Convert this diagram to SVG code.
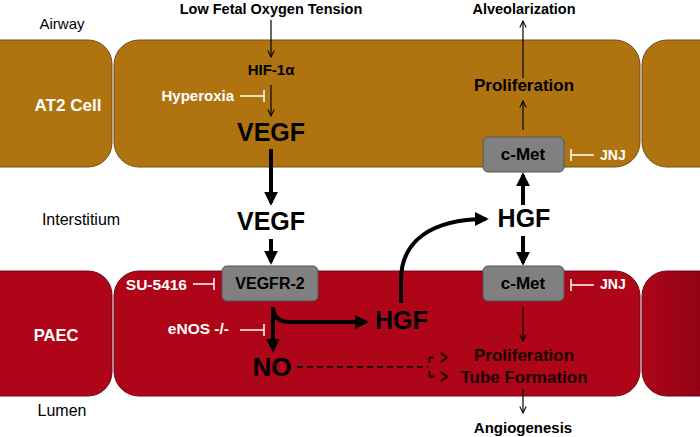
<svg xmlns="http://www.w3.org/2000/svg" width="700" height="437" viewBox="0 0 700 437">
<defs>
<linearGradient id="rg" x1="0" y1="0" x2="1" y2="0">
<stop offset="0" stop-color="#AE0519"/><stop offset="1" stop-color="#8E0214"/>
</linearGradient>
<marker id="ah" viewBox="0 0 10 10" refX="9" refY="5" markerWidth="8" markerHeight="8" markerUnits="userSpaceOnUse" orient="auto">
<path d="M1 1 L9 5 L1 9" fill="none" stroke="#000" stroke-width="1.3"/>
</marker>
<marker id="ahb" viewBox="0 0 10 10" refX="8" refY="5" markerWidth="3.5" markerHeight="3.5" orient="auto">
<path d="M0 0 L10 5 L0 10 Z" fill="#000"/>
</marker>
</defs>
<style>
.t{font-family:"Liberation Sans",Arial,sans-serif;}
.b{font-weight:bold;}
.n{font-weight:normal;fill:#000;}
.w{fill:#fff;}
.k{fill:#000;}
.c{text-anchor:middle;}
.e{text-anchor:end;}
.brown{fill:#AF7410;stroke:#6E5020;stroke-width:1;}
.red{fill:#AE0519;stroke:#6E0A14;stroke-width:1;}
.box{fill:#808080;stroke:#555;stroke-width:1;}
.thin{stroke:#000;stroke-width:1.2;fill:none;}
.thick{stroke:#000;stroke-width:4;fill:none;}
.inh{stroke:#fff;stroke-width:1.5;fill:none;}
.dash{stroke:#1a0000;stroke-width:1.8;fill:none;stroke-dasharray:6 4;}
.dk{stroke:#1a0000;stroke-width:1.8;fill:none;}
</style>
<rect width="700" height="437" fill="#fff"/>

<g id="at2-left"><path class="brown" d="M-10 40 H88 A24 24 0 0 1 112 64 V143 A24 24 0 0 1 88 167 H-10 Z"/></g>
<g id="at2-mid"><rect class="brown" x="114" y="40" width="526" height="127" rx="25" ry="25"/></g>
<g id="at2-right"><path class="brown" d="M710 40 H667 A25 25 0 0 0 642 65 V142 A25 25 0 0 0 667 167 H710 Z"/></g>
<g id="paec-left"><path class="red" d="M-10 271 H88 A24 24 0 0 1 112 295 V372 A24 24 0 0 1 88 396 H-10 Z"/></g>
<g id="paec-mid"><rect class="red" x="114" y="271" width="526" height="125" rx="25" ry="25"/></g>
<g id="paec-right"><path d="M710 271 H667 A25 25 0 0 0 642 296 V371 A25 25 0 0 0 667 396 H710 Z" fill="url(#rg)" stroke="#6E0A14" stroke-width="1"/></g>

<g id="labels">
<text class="t n c" x="62" y="29" font-size="15">Airway</text>
<text class="t n c" x="81" y="225" font-size="16">Interstitium</text>
<text class="t n c" x="62" y="416" font-size="16">Lumen</text>
<text class="t b w c" x="68" y="111" font-size="17">AT2 Cell</text>
<text class="t b w c" x="56" y="341" font-size="16.5">PAEC</text>
</g>

<g id="low-o2"><text class="t b k c" x="271" y="13.5" font-size="14.5">Low Fetal Oxygen Tension</text></g>
<g id="hif"><text class="t b k c" x="271" y="75" font-size="15">HIF-1α</text></g>
<g id="hyperoxia"><text class="t b w e" x="234" y="101" font-size="15">Hyperoxia</text></g>
<g id="vegf-at2"><text class="t b k c" x="271" y="141" font-size="25">VEGF</text></g>
<g id="vegf-int"><text class="t b k c" x="271" y="230" font-size="25">VEGF</text></g>
<g id="vegfr2"><rect class="box" x="222" y="266" width="96" height="35" rx="5"/><text class="t b k c" x="270" y="289" font-size="16">VEGFR-2</text></g>
<g id="su5416"><text class="t b w e" x="187" y="290" font-size="15.5">SU-5416</text></g>
<g id="enos"><text class="t b w e" x="229" y="334" font-size="15.5">eNOS -/-</text></g>
<g id="no"><text class="t b k c" x="272" y="376" font-size="26">NO</text></g>
<g id="hgf-paec"><text class="t b k" x="375" y="329" font-size="25">HGF</text></g>
<g id="hgf-int"><text class="t b k c" x="524" y="227" font-size="25">HGF</text></g>
<g id="cmet-top"><rect class="box" x="483" y="137" width="81" height="35" rx="5"/><text class="t b k c" x="523" y="160" font-size="17">c-Met</text></g>
<g id="cmet-bot"><rect class="box" x="483" y="266" width="81" height="35" rx="5"/><text class="t b k c" x="523" y="289" font-size="17">c-Met</text></g>
<g id="jnj-top"><text class="t b w" x="600" y="160" font-size="14">JNJ</text></g>
<g id="jnj-bot"><text class="t b w" x="600" y="289" font-size="14">JNJ</text></g>
<g id="prolif-top"><text class="t b k c" x="524" y="91" font-size="17">Proliferation</text></g>
<g id="alveol"><text class="t b k c" x="524" y="14" font-size="14.5">Alveolarization</text></g>
<g id="prolif-bot"><text class="t b c" fill="#1a0000" x="524" y="361" font-size="17">Proliferation</text></g>
<g id="tube"><text class="t b c" fill="#1a0000" x="524" y="383" font-size="17">Tube Formation</text></g>
<g id="angio"><text class="t b k c" x="523" y="433" font-size="15">Angiogenesis</text></g>

<g id="connectors">
<line class="thin" x1="271" y1="20" x2="271" y2="57" marker-end="url(#ah)"/>
<line class="thin" x1="271" y1="85" x2="271" y2="116" marker-end="url(#ah)"/>
<path class="inh" d="M240 96 H264 M264 90 V102"/>
<line class="thick" x1="271" y1="149" x2="271" y2="203" marker-end="url(#ahb)"/>
<line class="thick" x1="271" y1="239" x2="271" y2="262" marker-end="url(#ahb)"/>
<path class="inh" d="M193 284 H214 M214 278 V290"/>
<line class="thick" x1="273" y1="307" x2="273" y2="350" marker-end="url(#ahb)"/>
<path class="thick" d="M273 308 Q274 322 290 322 H366" marker-end="url(#ahb)"/>
<path class="inh" d="M240 330 H264 M264 324 V336"/>
<path class="dash" d="M297 367 H428"/>
<path class="dk" d="M434 357.5 H429.5 V363"/>
<path class="dk" d="M429.5 371 V376.5 H434"/>
<path d="M441 353 L447 357.5 L441 362 M441 372 L447 376.5 L441 381" fill="none" stroke="#1a0000" stroke-width="2"/>
<path class="thick" d="M401 303 V280 C401 242 430 219 486 219" marker-end="url(#ahb)"/>
<line class="thick" x1="523" y1="205" x2="523" y2="175" marker-end="url(#ahb)"/>
<line class="thick" x1="523" y1="236" x2="523" y2="263" marker-end="url(#ahb)"/>
<line class="thin" x1="523" y1="130" x2="523" y2="101" marker-end="url(#ah)"/>
<line class="thin" x1="523" y1="78" x2="523" y2="21" marker-end="url(#ah)"/>
<path class="inh" d="M594 155 H571 M571 149 V161"/>
<path class="inh" d="M594 285 H571 M571 279 V291"/>
<line class="thin" x1="523" y1="307" x2="523" y2="341" marker-end="url(#ah)"/>
<line class="thin" x1="523" y1="389" x2="523" y2="413" marker-end="url(#ah)"/>
</g>
</svg>
